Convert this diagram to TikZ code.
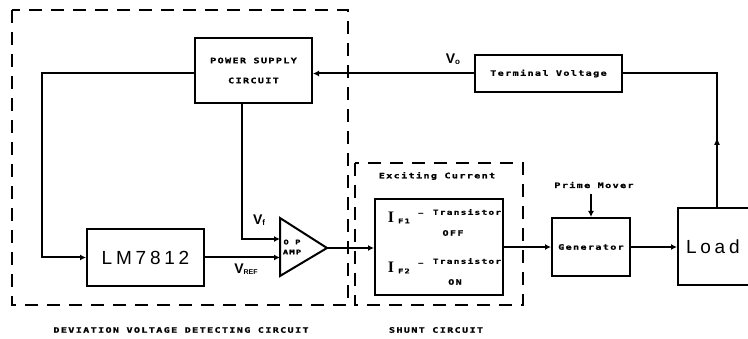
\documentclass[tikz,border=0pt]{standalone}
\usepackage{fontspec}
\usetikzlibrary{arrows.meta}
\newfontfamily\plotfont{DejaVu Sans Mono Bold}[FakeStretch=1.35, LetterSpace=18, FakeBold=1.2]
\newfontfamily\bigsans{Liberation Sans}[LetterSpace=20]
\newfontfamily\vfont{Liberation Sans Bold}
\newfontfamily\serifI{Liberation Serif Bold}
\begin{document}
\begin{tikzpicture}[x=1pt,y=-1pt,
  plot/.style={font=\plotfont\fontsize{7.5}{20}\selectfont, inner sep=1pt, align=center},
  box/.style={draw, line width=2pt, inner sep=0pt},
  conn/.style={line width=2pt, -{Latex[length=6pt,width=6pt]}},
  plain/.style={line width=2pt},
  dashbox/.style={line width=2.2pt, dash pattern=on 13pt off 9pt},
  vlab/.style={font=\vfont\fontsize{14}{14}\selectfont, inner sep=0pt},
  big/.style={font=\bigsans\fontsize{19}{19}\selectfont}]
\useasboundingbox (0,0) rectangle (748,339);

% dashed groups
\draw[dashbox] (12,10) rectangle (348,305);
\draw[dashbox] (355,163) rectangle (523,305);

% boxes
\node[box, minimum width=117pt, minimum height=65pt, plot] (ps) at (253.5,70.5) {POWER SUPPLY\\CIRCUIT};
\node[box, minimum width=147pt, minimum height=37pt, plot] (tv) at (548.5,73.5) {Terminal Voltage};
\node[box, minimum width=117pt, minimum height=57pt, big] (lm) at (145.5,257.5) {LM7812};
\node[box, minimum width=128pt, minimum height=96pt] (sh) at (439,247) {};
\node[box, minimum width=78pt, minimum height=58pt, plot] (gen) at (591,247) {Generator};
\node[box, minimum width=78pt, minimum height=77pt, big, text width=62pt, align=left] (load) at (717,247) {Load};

% op amp
\draw[line width=2pt, line join=miter] (280,218) -- (327,248) -- (280,276) -- cycle;
\coordinate (oa1) at (280,239);
\coordinate (oa2) at (280,257.5);
\coordinate (oaout) at (327,248);
\node[plot, font=\plotfont\fontsize{6.5}{10}\selectfont, inner sep=0pt] (oplab) at (292,247) {O P\\AMP};

% helper coordinates
\coordinate (lc) at (42,0);
\coordinate (pf) at (242,0);
\coordinate (lu) at (717,137);
\coordinate (lb) at (717,208.5);

% connectors
\draw[conn] (tv.west) -- (ps.east |- tv.west);
\draw[conn] (ps.west |- tv.west) -| (lc |- lm.west) -- (lm.west);
\draw[conn] (pf |- ps.south) |- (oa1);
\draw[conn] (lm.east) -- (oa2);
\draw[conn] (oaout) -- (sh.west |- oaout);
\draw[conn] (sh.east) -- (gen.west);
\draw[conn] (gen.east) -- (load.west);
\node[plot] (pm) at (594,185) {Prime Mover};
\draw[conn, shorten <=5pt] (gen.north |- pm.south) -- (gen.north);
\draw[plain] (lb) |- (tv.east);
\draw[line width=2pt, -{Latex[length=8pt,width=6pt]}] (lb) -- (lu);

% voltage labels
\node[vlab] (vo) at (453,59) {V\raisebox{-1.5pt}{\fontsize{8}{8}\selectfont o}};
\node[vlab] (vf) at (259,220) {V\raisebox{-1.5pt}{\fontsize{8}{8}\selectfont f}};
\node[vlab] (vref) at (246,269) {V\raisebox{-1.5pt}{\fontsize{7}{7}\selectfont REF}};

% shunt circuit contents
\node[font=\serifI\fontsize{16}{16}\selectfont, inner sep=0pt] (i1) at (391,217) {I};
\node[font=\plotfont\fontsize{6.5}{7}\selectfont, inner sep=0pt] (s1) at (404,221) {F1};
\node[font=\vfont\fontsize{10}{10}\selectfont, inner sep=0pt] (d1) at (421,215) {\textendash};
\node[plot, font=\plotfont\fontsize{7}{7}\selectfont] (t1) at (467,212) {Transistor};
\node[plot] (off) at (453,233) {OFF};
\node[font=\serifI\fontsize{16}{16}\selectfont, inner sep=0pt] (i2) at (391,267) {I};
\node[font=\plotfont\fontsize{6.5}{7}\selectfont, inner sep=0pt] (s2) at (404,271) {F2};
\node[font=\vfont\fontsize{10}{10}\selectfont, inner sep=0pt] (d2) at (421,265) {\textendash};
\node[plot, font=\plotfont\fontsize{7}{7}\selectfont] (t2) at (467,261) {Transistor};
\node[plot] (on) at (455,282) {ON};
\node[plot] (exc) at (437,176) {Exciting Current};

% group captions
\node[plot] (devcap) at (181,330) {DEVIATION VOLTAGE DETECTING CIRCUIT};
\node[plot] (shcap) at (436,330) {SHUNT CIRCUIT};
\end{tikzpicture}
\end{document}
